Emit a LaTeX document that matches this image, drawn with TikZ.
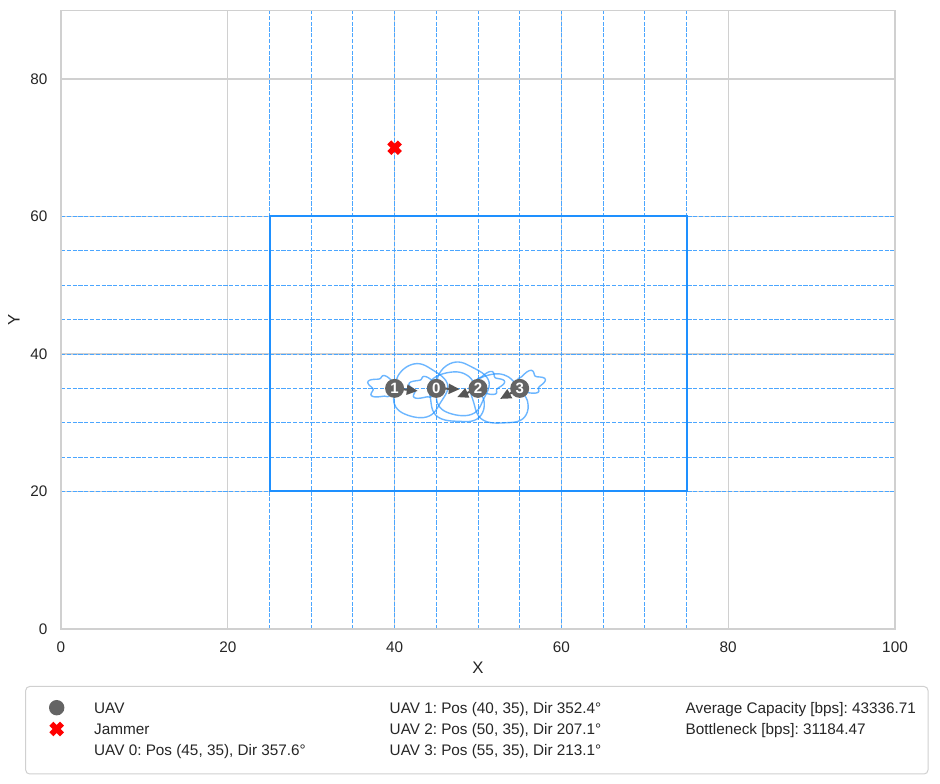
\documentclass[tikz,border=0pt]{standalone}
\usepackage{fontspec}
\setmainfont{Liberation Sans}
\usetikzlibrary{arrows.meta}
\definecolor{gridgray}{HTML}{D0D0D0}
\definecolor{dblue}{HTML}{1E90FF}
\definecolor{uavgray}{HTML}{646464}
\definecolor{arrgray}{HTML}{555555}
\definecolor{txt}{HTML}{262626}
\begin{document}
\frenchspacing
\begin{tikzpicture}[x=1pt,y=1pt,
  font=\fontsize{15.3}{18}\selectfont\frenchspacing,
  declare function={lobe(\t)=(cos(\t)>0) ? (6.2*pow(abs(cos(\t))+0.002,0.5)*(1+0.04*sin(7*\t))) : (3.0*(abs(cos(\t))+0.002)*(1+0.13*sin(9*\t)));},
  gridline/.style={draw=gridgray, line width=1.3pt},
  spine/.style={draw=gridgray, line width=1.3pt},
  dgrid/.style={draw=dblue!80, line width=0.9pt, dash pattern=on 4.2pt off 1.6pt},
  region/.style={draw=dblue, line width=2pt},
  lobeline/.style={draw=dblue, draw opacity=0.65, line width=1.4pt},
  tick/.style={text=txt, inner sep=0pt},
  uav/.style={circle, fill=uavgray, minimum size=19pt, inner sep=0pt, text=white, font=\fontsize{15}{16}\selectfont\bfseries},
  uavarrow/.style={draw=arrgray, line width=2pt, -{Triangle[length=11pt,width=10pt]}},
  legtext/.style={text=txt, anchor=base west, inner sep=0pt},
  jamx/.pic={\fill[red, rotate=45] (2.8pt,7.5pt) -- (2.8pt,2.8pt) -- (7.5pt,2.8pt) -- (7.5pt,-2.8pt) -- (2.8pt,-2.8pt) -- (2.8pt,-7.5pt) -- (-2.8pt,-7.5pt) -- (-2.8pt,-2.8pt) -- (-7.5pt,-2.8pt) -- (-7.5pt,2.8pt) -- (-2.8pt,2.8pt) -- (-2.8pt,7.5pt) -- cycle;}
]
\useasboundingbox (0,0) rectangle (940,784);
\fill[white] (0,0) rectangle (940,784);
\begin{scope}[shift={(61,155)}, x=8.34pt, y=6.875pt]
  \foreach \v in {20,40,60,80} {
    \draw[gridline] (\v,0) -- (\v,90);
    \draw[gridline] (0,\v) -- (100,\v);
  }
  \foreach \v in {25,30,...,75} \draw[dgrid] (\v,0) -- (\v,90);
  \foreach \v in {20,25,...,60} \draw[dgrid] (0,\v) -- (100,\v);
  \draw[region] (25,20) rectangle (75,60);
  \draw[spine] (0,0) rectangle (100,90);
  \foreach \v in {0,20,...,100} \node[tick, anchor=base, yshift=-24pt] (xt\v) at (\v,0) {\v};
  \foreach \v in {0,20,...,80} \node[tick, anchor=east, xshift=-13.5pt] (yt\v) at (0,\v) {\v};
  % antenna patterns
  \foreach \px/\py/\d in {45/35/357.6, 40/35/352.4, 50/35/207.1, 55/35/213.1}
    \draw[lobeline] plot[smooth cycle, samples=100, domain=0:356.4, variable=\t]
      ({\px+lobe(\t)*cos(\t+\d)}, {\py+lobe(\t)*sin(\t+\d)});
  % UAVs
  \coordinate (c0) at (45,35);
  \coordinate (c1) at (40,35);
  \coordinate (c2) at (50,35);
  \coordinate (c3) at (55,35);
  \coordinate (t0) at ({45+2.8*cos(357.6)},{35+2.8*sin(357.6)});
  \coordinate (t1) at ({40+2.8*cos(352.4)},{35+2.8*sin(352.4)});
  \coordinate (t2) at ({50+2.8*cos(207.1)},{35+2.8*sin(207.1)});
  \coordinate (t3) at ({55+2.8*cos(213.1)},{35+2.8*sin(213.1)});
  \foreach \i in {0,1,2,3} \draw[uavarrow] (c\i) -- (t\i);
  \foreach \i in {0,1,2,3} \node[uav] (u\i) at (c\i) {\i};
  % jammer
  \coordinate (jam) at (40,70);
  \pic at (jam) {jamx};
\end{scope}
% axis labels
\node[text=txt, font=\fontsize{16.7}{19}\selectfont, inner sep=0pt] (xlab) at (478,116) {X};
\node[text=txt, font=\fontsize{16.7}{19}\selectfont, inner sep=0pt, rotate=90] (ylab) at (14,464) {Y};
% legend
\draw[draw=gridgray, line width=1pt, rounded corners=4pt] (25.7,10) rectangle (928,97.5);
\node[circle, fill=uavgray, minimum size=15.4pt, inner sep=0pt] (legu) at (56.7,76.3) {};
\coordinate (legj) at (56.7,55);
\pic at (legj) {jamx};
\node[legtext] (l1) at (94,70.7) {UAV};
\node[legtext] (l2) at (94,49.7) {Jammer};
\node[legtext] (l3) at (94,28.7) {UAV 0: Pos (45, 35), Dir 357.6°};
\node[legtext] (l4) at (389.5,70.7) {UAV 1: Pos (40, 35), Dir 352.4°};
\node[legtext] (l5) at (389.5,49.7) {UAV 2: Pos (50, 35), Dir 207.1°};
\node[legtext] (l6) at (389.5,28.7) {UAV 3: Pos (55, 35), Dir 213.1°};
\node[legtext] (l7) at (685.5,70.7) {Average Capacity [bps]: 43336.71};
\node[legtext] (l8) at (685.5,49.7) {Bottleneck [bps]: 31184.47};
\end{tikzpicture}
\end{document}
